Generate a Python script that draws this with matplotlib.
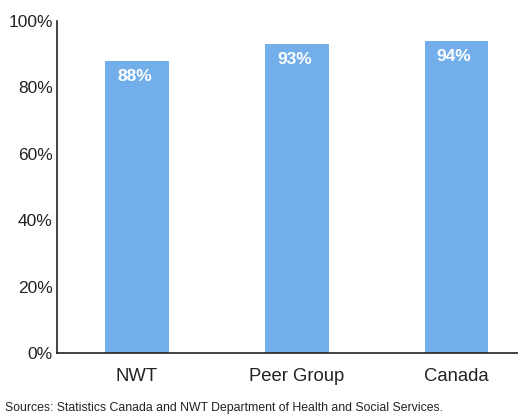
from matplotlib import pyplot as plt
from matplotlib.ticker import PercentFormatter

plt.rcParams['font.family'] = ['Liberation Sans', 'DejaVu Sans']

categories = ['NWT', 'Peer Group', 'Canada']
values = [88, 93, 94]
labels = ['88%', '93%', '94%']

fig = plt.figure(figsize=(5.18, 4.15), dpi=100)
ax = fig.add_axes((57 / 518, 62 / 415, 461 / 518, 332 / 415))

x = range(len(categories))
bars = ax.bar(x, values, width=0.40, color='#72aeea')

# value labels inside the top of each bar
for b, lab in zip(bars, labels):
    ax.text(b.get_x() + b.get_width() / 2 - 0.015, b.get_height() - 4.6, lab,
            ha='center', va='center', color='white', fontsize=12.5, fontweight='bold')

ax.set_xlim(-0.5, 2.385)
ax.set_ylim(0, 100)
ax.set_yticks(range(0, 101, 20))
ax.yaxis.set_major_formatter(PercentFormatter(decimals=0))
ax.set_xticks(list(x))
ax.set_xticklabels(categories)
ax.tick_params(axis='both', length=0, colors='#222222')
ax.tick_params(axis='y', labelsize=12.5, pad=3)
ax.tick_params(axis='x', labelsize=13.3, pad=11)

for s in ['top', 'right']:
    ax.spines[s].set_visible(False)
for s in ['left', 'bottom']:
    ax.spines[s].set_linewidth(1.2)
    ax.spines[s].set_color('#222222')

fig.text(5 / 518, 1 - 408 / 415, 'Sources: Statistics Canada and NWT Department of Health and Social Services.',
         fontsize=8.8, color='#222222', va='center')

fig.savefig('out.png')
